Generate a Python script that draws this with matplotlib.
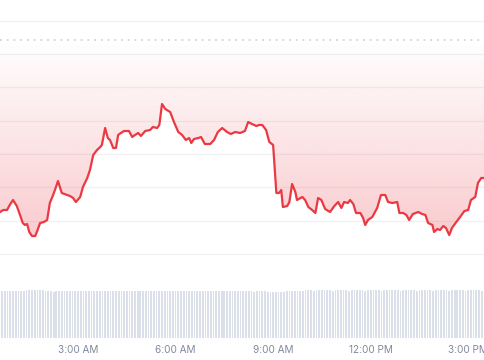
import matplotlib
matplotlib.use("Agg")
import matplotlib.pyplot as plt
import numpy as np

# minutes since midnight / price
minutes = [
    36, 42, 49, 54, 60, 67, 73, 78, 82, 86, 90, 95, 101, 104, 110, 117, 123,
    128, 134, 138, 143, 150, 160, 165, 171, 176, 184, 189, 197, 202, 208, 215,
    221, 224, 230, 235, 239, 245, 250, 254, 259, 265, 274, 280, 285, 291, 296,
    304, 313, 318, 326, 330, 335, 341, 350, 357, 365, 372, 379, 385, 389, 394,
    402, 407, 414, 424, 431, 438, 446, 455, 462, 470, 479, 488, 494, 501, 509,
    514, 520, 527, 533, 540, 546, 551, 555, 558, 566, 570, 575, 581, 584, 594,
    599, 605, 612, 618, 623, 629, 636, 645, 653, 660, 666, 671, 678, 682, 688,
    693, 701, 706, 710, 715, 723, 728, 732, 739, 747, 752, 760, 769, 773, 780,
    786, 791, 798, 808, 815, 821, 826, 834, 837, 843, 848, 854, 859, 865, 870,
    878, 885, 893, 900, 905, 913, 918, 924, 931,
]
price = [
    60.63, 60.66, 60.66, 60.735, 60.81, 60.72, 60.585, 60.465, 60.435, 60.45,
    60.33, 60.27, 60.27, 60.33, 60.465, 60.48, 60.51,
    60.765, 60.885, 60.975, 61.095, 60.915, 60.885, 60.87, 60.84, 60.78, 60.855,
    61.005, 61.14, 61.26, 61.485, 61.56,
    61.605, 61.635, 61.89, 61.74, 61.71, 61.59, 61.59, 61.785, 61.815, 61.845,
    61.845, 61.755, 61.785, 61.815, 61.77,
    61.845, 61.86, 61.905, 61.89, 61.935, 62.25, 62.175, 62.13, 61.98, 61.83,
    61.785, 61.71, 61.74, 61.665, 61.725,
    61.74, 61.755, 61.65, 61.65, 61.71, 61.83, 61.89, 61.83, 61.80, 61.83,
    61.815, 61.845, 61.98, 61.95, 61.92,
    61.935, 61.935, 61.86, 61.68, 61.635, 60.915, 60.915, 60.96, 60.705, 60.72,
    60.78, 61.05, 60.93, 60.81, 60.855,
    60.81, 60.705, 60.66, 60.615, 60.84, 60.81, 60.675, 60.63, 60.72, 60.78,
    60.69, 60.78, 60.765, 60.81, 60.75,
    60.615, 60.615, 60.54, 60.435, 60.51, 60.555, 60.63, 60.69, 60.885, 60.885,
    60.78, 60.765, 60.78, 60.615, 60.615,
    60.585, 60.51, 60.60, 60.63, 60.60, 60.585, 60.465, 60.435, 60.33, 60.375,
    60.36, 60.42, 60.39, 60.285, 60.39,
    60.48, 60.555, 60.645, 60.66, 60.81, 60.855, 61.065, 61.14, 61.14,
]
open_price = 63.21  # dotted reference line

# 5-minute volume bars starting 00:40
volume = [
    98, 97, 98, 98, 97, 98, 98, 97, 98, 99,
    99, 100, 99, 100, 99, 99, 98, 97, 97, 96,
    97, 97, 98, 98, 97, 98, 98, 98, 97, 98,
    98, 98, 97, 98, 98, 98, 98, 97, 98, 98,
    98, 97, 98, 98, 98, 98, 97, 98, 98, 98,
    98, 98, 97, 98, 98, 98, 98, 97, 98, 98,
    97, 98, 98, 98, 98, 98, 97, 98, 98, 97,
    98, 98, 98, 98, 97, 98, 98, 98, 98, 97,
    98, 98, 98, 97, 98, 98, 98, 98, 97, 97,
    97, 97, 97, 96, 97, 97, 97, 97, 96, 96,
    95, 96, 95, 96, 96, 97, 98, 98, 98, 98,
    98, 98, 99, 99, 99, 98, 99, 99, 99, 99,
    99, 99, 98, 99, 99, 99, 99, 99, 98, 99,
    99, 99, 99, 99, 98, 99, 99, 99, 99, 99,
    98, 99, 99, 99, 99, 99, 99, 98, 99, 99,
    99, 99, 99, 98, 99, 99, 99, 99, 99, 98,
    99, 99, 99, 99, 99, 98, 99, 99, 99, 99,
    99, 98, 99, 99, 99, 99, 99, 98, 99,
]
vol_minutes = 40 + 5 * np.arange(len(volume))

tick_minutes = [180, 360, 540, 720, 900]
tick_labels = ["3:00 AM", "6:00 AM", "9:00 AM", "12:00 PM", "3:00 PM"]

RED = "#ea3943"
XLIM = (36, 931)

plt.rcParams["font.family"] = ["Inter", "DejaVu Sans"]
fig = plt.figure(figsize=(4.85, 3.6), dpi=100)

ax = fig.add_axes([0, 0.25, 1, 0.75])
ax.set_xlim(*XLIM)
ax.set_ylim(59.76, 63.81)
for s in ax.spines.values():
    s.set_visible(False)
ax.set_xticks([])
ax.set_yticks(np.arange(60.0, 63.6, 0.5))
ax.tick_params(axis="y", length=0, labelleft=False)
ax.grid(axis="y", color="#f1f1f3", linewidth=0.9)
ax.set_axisbelow(True)

# gradient fill between the price line and the reference line
poly = ax.fill_between(minutes, price, open_price, facecolor="none", edgecolor="none")
lo = min(price)
grad = np.zeros((256, 1, 4))
grad[:, 0, :3] = matplotlib.colors.to_rgb(RED)
grad[:, 0, 3] = np.linspace(0.0, 0.26, 256)[::-1]
img = ax.imshow(grad, aspect="auto", extent=[XLIM[0], XLIM[1], lo, open_price],
                origin="lower", zorder=1)
img.set_clip_path(poly.get_paths()[0], transform=ax.transData)

ax.axhline(open_price, color="#c9ccd3", linewidth=1.1, linestyle=(0, (1.2, 3.2)), zorder=2)
ax.plot(minutes, price, color=RED, linewidth=1.6, solid_joinstyle="round", zorder=3)

vax = fig.add_axes([0, 22 / 360, 1, 53 / 360])
vax.set_xlim(*XLIM)
vax.set_ylim(0, 110)
vax.bar(vol_minutes, volume, width=3.2, color="#dadfea", linewidth=0)
for s in vax.spines.values():
    s.set_visible(False)
vax.set_yticks([])
vax.set_xticks(tick_minutes)
vax.set_xticklabels(tick_labels)
vax.tick_params(axis="x", length=0, pad=5, labelsize=7.2, labelcolor="#808a9d")

fig.savefig("out.png", dpi=100)
